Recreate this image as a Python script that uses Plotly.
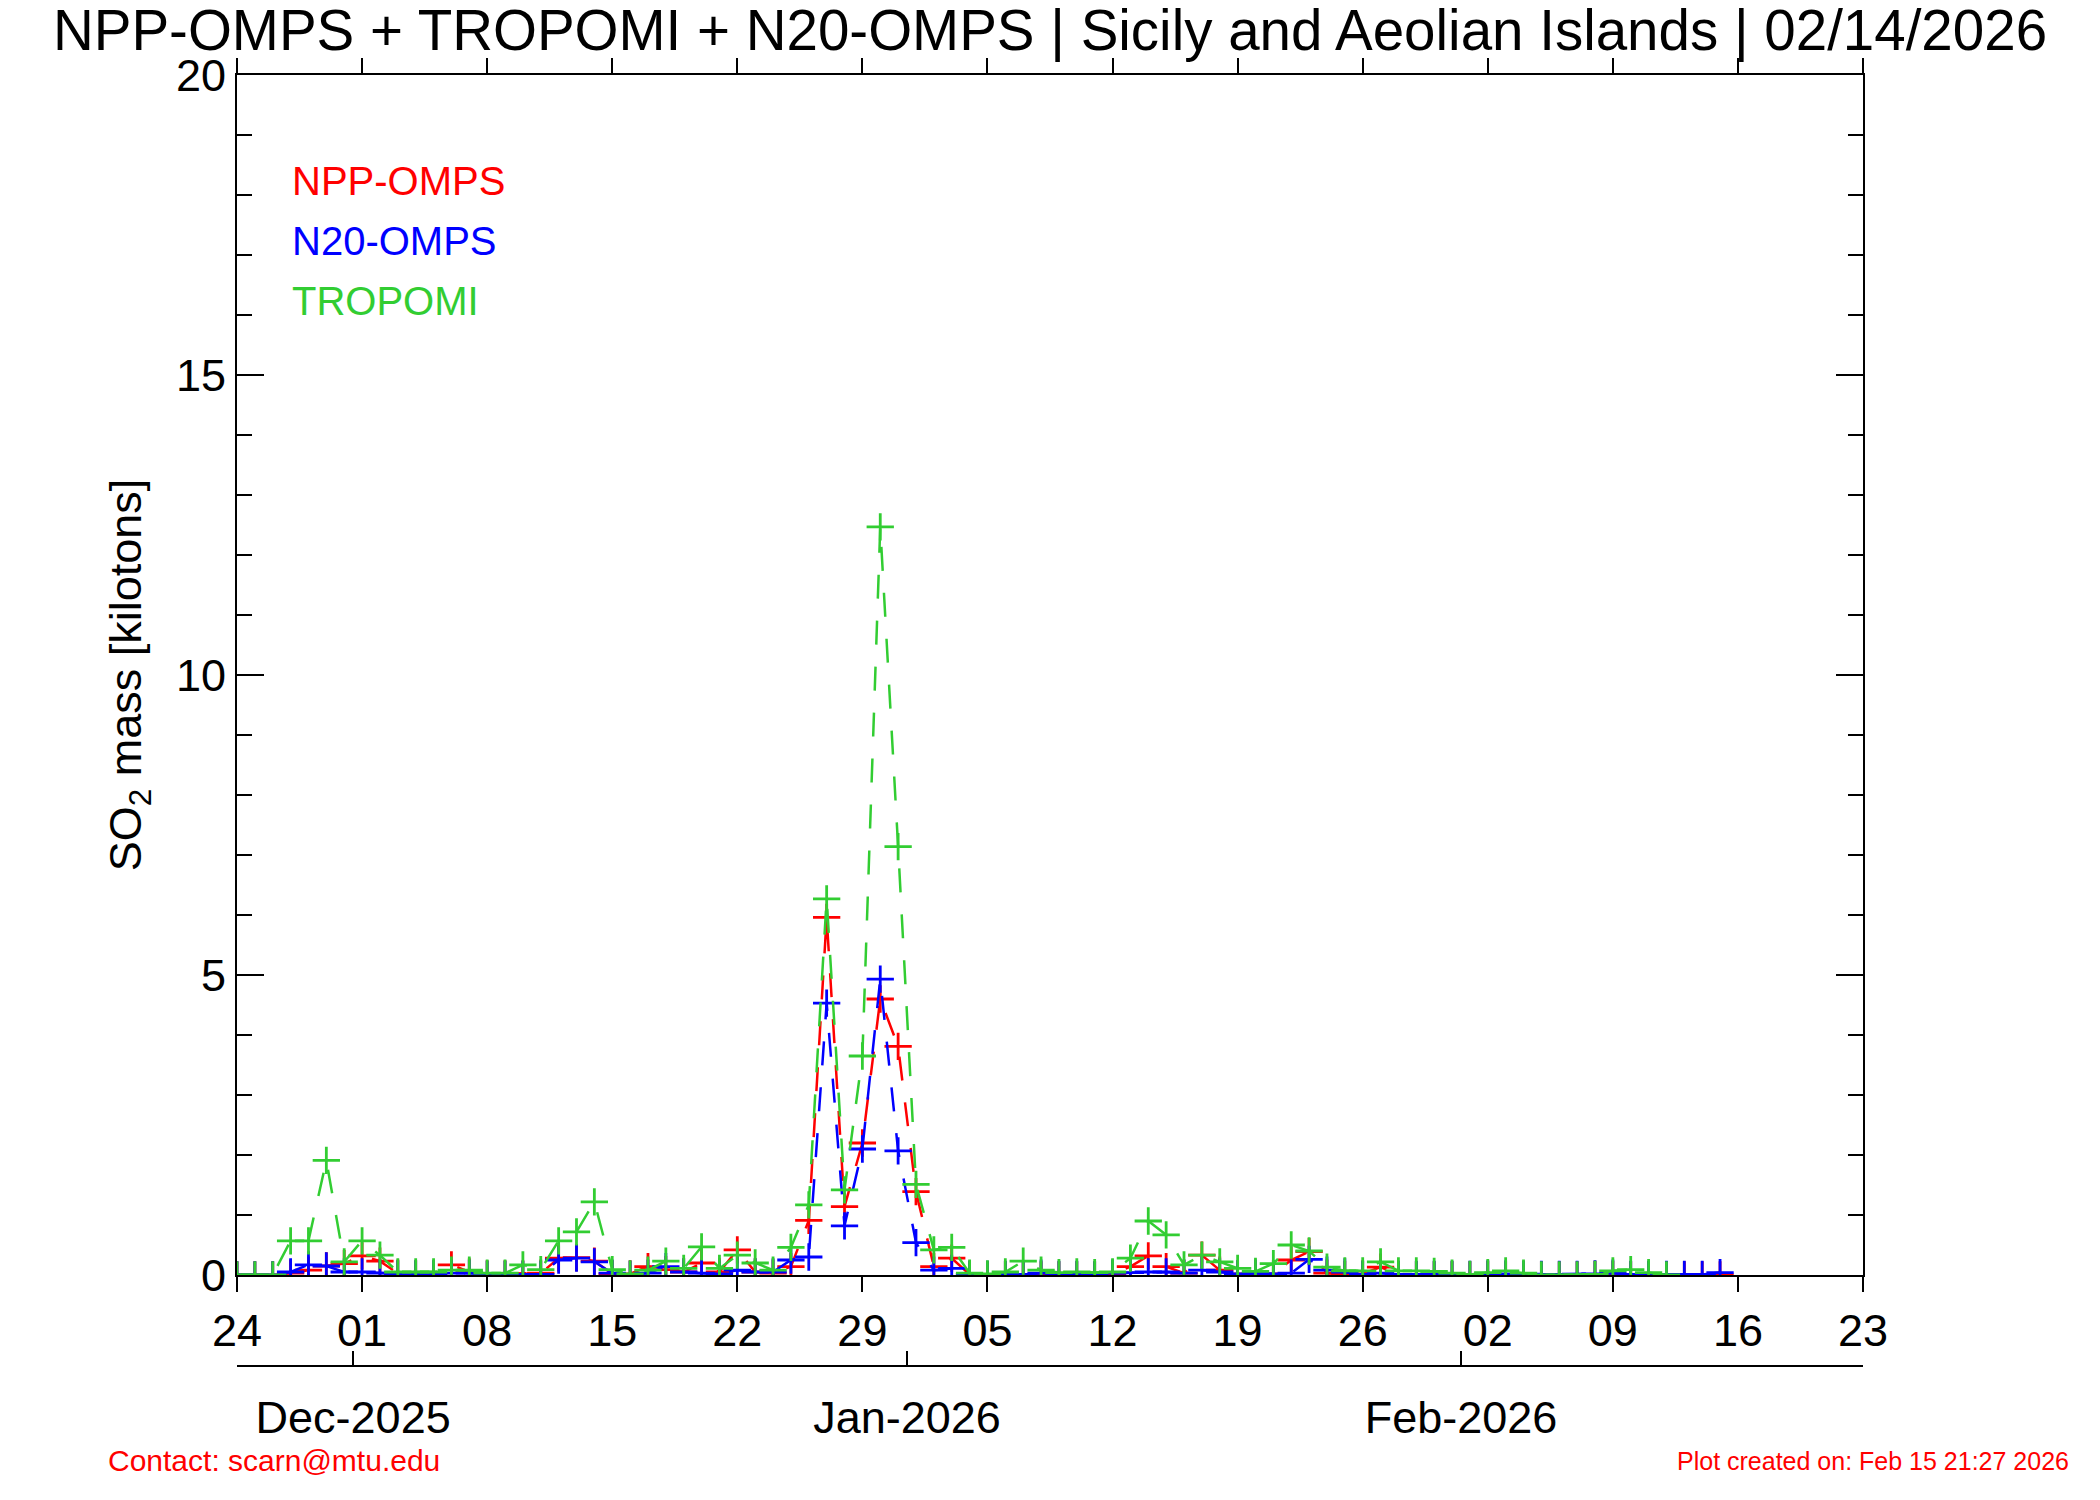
import plotly.graph_objects as go
import pandas as pd

# ---------------- data ----------------
START_DATE = "2025-11-24"
END_DATE = "2026-02-23"

series_names = ["NPP-OMPS", "N20-OMPS", "TROPOMI"]
series_colors = ["#FF0000", "#0000FF", "#32CD32"]

# daily SO2 mass [kilotons], starting 2025-11-24
npp_omps = [0, 0, 0, 0.03, 0.08, 0.15, 0.19, 0.32, 0.23, 0.03,
            0.02, 0.02, 0.17, 0.05, 0.02, 0.02, 0.02, 0.03, 0.28, 0.29,
            0.23, 0.02, 0.02, 0.14, 0.09, 0.05, 0.20, 0.05, 0.42, 0.05,
            0.03, 0.14, 0.91, 5.96, 1.14, 2.20, 4.60, 3.81, 1.39, 0.14,
            0.28, 0.01, 0, 0, 0.01, 0, 0, 0, 0, 0.02,
            0.14, 0.32, 0.14, 0.03, 0.33, 0.08, 0.02, 0.02, 0.02, 0.25,
            0.39, 0.03, 0.01, 0.02, 0.13, 0.01, 0, 0, 0, 0,
            0.01, 0, 0, 0, 0, 0, 0.01, 0.01, 0, 0,
            0, 0, 0, 0]
n20_omps = [0, 0, 0, 0.05, 0.17, 0.15, 0.05, 0.05, 0.03, 0.02,
            0.02, 0.02, 0.03, 0.03, 0.01, 0.01, 0.01, 0.01, 0.25, 0.28,
            0.22, 0.03, 0.01, 0.03, 0.14, 0.05, 0.03, 0.02, 0.08, 0.05,
            0.05, 0.25, 0.30, 4.53, 0.82, 2.10, 4.93, 2.07, 0.54, 0.08,
            0.11, 0.01, 0.01, 0.01, 0.01, 0.03, 0.01, 0.01, 0, 0.03,
            0.04, 0.05, 0.05, 0.03, 0.08, 0.05, 0.02, 0.03, 0.02, 0.03,
            0.26, 0.08, 0.05, 0.01, 0.03, 0.01, 0.01, 0.01, 0.01, 0.01,
            0.02, 0.02, 0.01, 0.01, 0.01, 0.01, 0.02, 0.03, 0.01, 0.01,
            0.01, 0.01, 0.01, 0.04]
tropomi = [0, 0, 0, 0.57, 0.57, 1.91, 0.22, 0.57, 0.33, 0.05,
           0.05, 0.05, 0.08, 0.08, 0.03, 0.03, 0.17, 0.09, 0.57, 0.72,
           1.22, 0.09, 0.02, 0.08, 0.23, 0.11, 0.47, 0.11, 0.33, 0.20,
           0.08, 0.46, 1.17, 6.27, 1.42, 3.65, 12.47, 7.14, 1.51, 0.42,
           0.46, 0.03, 0.02, 0.05, 0.23, 0.08, 0.04, 0.05, 0.04, 0.05,
           0.28, 0.90, 0.67, 0.17, 0.33, 0.22, 0.11, 0.06, 0.19, 0.50,
           0.40, 0.13, 0.07, 0.07, 0.22, 0.07, 0.07, 0.06, 0.03, 0.01,
           0.04, 0.07, 0.03, 0, 0, 0, 0.01, 0.07, 0.09, 0.04,
           0]

series_values = [npp_omps, n20_omps, tropomi]

month_tick_vals = ["2025-11-30 12:00", "2025-12-31 12:00", "2026-01-31 12:00"]
month_tick_text = ["Dec-2025", "Jan-2026", "Feb-2026"]
y_tick_vals = [0, 5, 10, 15, 20]

title_text = "NPP-OMPS + TROPOMI + N20-OMPS | Sicily and Aeolian Islands | 02/14/2026"
y_title = "SO<sub>2</sub> mass [kilotons]"
contact_text = "Contact: scarn@mtu.edu"
created_text = "Plot created on: Feb 15 21:27 2026"

# ---------------- figure ----------------
FONT = "Liberation Sans, Arial, Helvetica, sans-serif"
W, H = 2100, 1500
ML, MR, MT, MB = 237, 237, 75, 134
plot_h = H - MT - MB
ydom0 = 91 / plot_h

fig = go.Figure()
for name, color, vals in zip(series_names, series_colors, series_values):
    dates = pd.date_range(START_DATE, periods=len(vals), freq="D")
    fig.add_trace(go.Scatter(
        x=dates, y=vals, name=name, mode="lines+markers",
        line=dict(color=color, width=2.5, dash="24px,22px"),
        marker=dict(symbol="cross-thin", size=19.5,
                    line=dict(width=2.8, color=color), color=color),
        cliponaxis=True, showlegend=False,
    ))

# invisible trace on the month axis so it is drawn
fig.add_trace(go.Scatter(x=[START_DATE], y=[None], xaxis="x2", yaxis="y",
                         mode="markers", showlegend=False, hoverinfo="skip"))

axis_font = dict(family=FONT, size=45, color="black")

fig.update_layout(
    width=W, height=H,
    margin=dict(l=ML, r=MR, t=MT, b=MB, pad=0),
    paper_bgcolor="white", plot_bgcolor="white",
    font=dict(family=FONT, color="black"),
    title=dict(text=title_text, x=0.5, xanchor="center", xref="paper",
               y=1 - 30 / H, yanchor="middle", yref="container",
               font=dict(family=FONT, size=56.5, color="black")),
    xaxis=dict(
        type="date", range=[START_DATE, END_DATE],
        tick0=START_DATE, dtick=7 * 86400000, tickformat="%d",
        ticks="outside", ticklen=15, tickwidth=2, tickcolor="black",
        showline=True, linewidth=2, linecolor="black", mirror="ticks",
        showgrid=False, zeroline=False, tickfont=axis_font, anchor="y",
    ),
    xaxis2=dict(
        type="date", range=[START_DATE, END_DATE], overlaying="x",
        anchor="free", position=0, side="bottom",
        tickmode="array", tickvals=month_tick_vals, ticktext=month_tick_text,
        ticks="inside", ticklen=14, tickwidth=2, tickcolor="black",
        showline=True, linewidth=2, linecolor="black",
        showgrid=False, zeroline=False, tickfont=axis_font,
        ticklabelstandoff=12,
    ),
    yaxis=dict(
        range=[0, 20], domain=[ydom0, 1],
        tickmode="array", tickvals=y_tick_vals,
        ticks="inside", ticklen=27, tickwidth=2, tickcolor="black",
        minor=dict(dtick=1, ticks="inside", ticklen=15, tickwidth=2,
                   tickcolor="black", showgrid=False),
        showline=True, linewidth=2, linecolor="black", mirror="ticks",
        showgrid=False, zeroline=False, tickfont=axis_font,
        title=dict(text=y_title, font=dict(family=FONT, size=45, color="black"),
                   standoff=20),
    ),
)

# colored text legend
for i, (name, color) in enumerate(zip(series_names, series_colors)):
    fig.add_annotation(text=name, xref="x domain", yref="y domain",
                       x=0.0325, y=0.9117 - 0.05 * i, xanchor="left", yanchor="middle",
                       showarrow=False, font=dict(family=FONT, size=40, color=color))

fig.add_annotation(text=contact_text, xref="paper", yref="paper",
                   x=(106 - ML) / (W - ML - MR), y=(H - MB - 1460) / plot_h,
                   xanchor="left", yanchor="middle", showarrow=False,
                   font=dict(family=FONT, size=30, color="#FF0000"))
fig.add_annotation(text=created_text, xref="paper", yref="paper",
                   x=(2071 - ML) / (W - ML - MR), y=(H - MB - 1461) / plot_h,
                   xanchor="right", yanchor="middle", showarrow=False,
                   font=dict(family=FONT, size=25, color="#FF0000"))

fig.write_html("out.html", config={"displayModeBar": False},
               post_script="document.body.style.margin='0';")
